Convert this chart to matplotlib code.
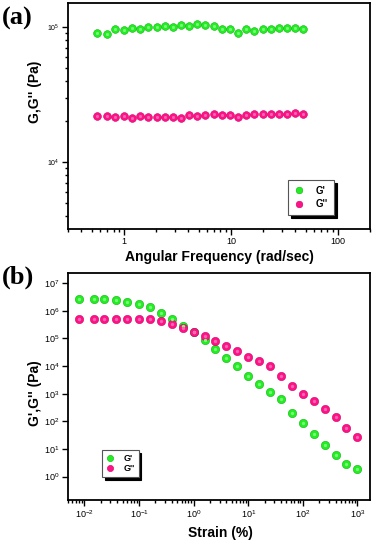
import numpy as np
import matplotlib
matplotlib.use("Agg")
import matplotlib.pyplot as plt
from matplotlib.ticker import LogLocator, NullFormatter, FixedLocator, FixedFormatter

plt.rcParams['font.family'] = ['Liberation Sans', 'DejaVu Sans']

# ---------- Panel (a): frequency sweep ----------
freq_a = [0.56, 0.69, 0.83, 1.0, 1.19, 1.42, 1.69, 2.02, 2.40, 2.86, 3.41, 4.07,
          4.85, 5.79, 6.93, 8.26, 9.84, 11.7, 14.0, 16.6, 19.9, 23.7, 28.1, 33.7, 39.9, 47.0]
Gp_a = [0.90e5, 0.89e5, 0.96e5, 0.95e5, 0.98e5, 0.97e5, 1.00e5, 1.00e5, 1.02e5, 1.00e5,
        1.03e5, 1.02e5, 1.05e5, 1.03e5, 1.02e5, 0.96e5, 0.96e5, 0.90e5, 0.96e5, 0.93e5,
        0.96e5, 0.97e5, 0.98e5, 0.98e5, 0.985e5, 0.965e5]
Gpp_a = [2.18e4, 2.19e4, 2.16e4, 2.18e4, 2.13e4, 2.19e4, 2.17e4, 2.16e4, 2.15e4, 2.17e4,
         2.12e4, 2.21e4, 2.18e4, 2.22e4, 2.28e4, 2.24e4, 2.24e4, 2.16e4, 2.23e4, 2.27e4,
         2.28e4, 2.27e4, 2.28e4, 2.25e4, 2.30e4, 2.28e4]

# ---------- Panel (b): strain sweep ----------
strain_b = [0.008, 0.015, 0.023, 0.038, 0.06, 0.1, 0.16, 0.25, 0.4, 0.63, 1, 1.6, 2.5,
            4, 6.3, 10, 16, 25, 40, 63, 100, 160, 250, 400, 630, 1000]
Gp_b = [2.7e6, 2.7e6, 2.7e6, 2.43e6, 2.1e6, 1.8e6, 1.35e6, 8.5e5, 5.0e5, 2.86e5, 1.69e5,
        8.4e4, 4.1e4, 2.0e4, 9.6e3, 4.4e3, 2.2e3, 1.17e3, 6.4e2, 2.0e2, 84, 35, 14, 6.1,
        2.8, 1.86]
Gpp_b = [5.0e5, 5.1e5, 5.0e5, 5.0e5, 5.1e5, 5.1e5, 5.0e5, 4.3e5, 3.4e5, 2.36e5, 1.69e5,
         1.17e5, 8.2e4, 5.4e4, 3.46e4, 2.2e4, 1.46e4, 9.6e3, 4.4e3, 1.93e3, 990, 524, 290,
         141, 57, 26]

GREEN = '#22ee22'
GREEN_HI = '#77ff77'
GREEN_EDGE = '#11b011'
PINK = '#ff1188'
PINK_HI = '#ff66b0'
PINK_EDGE = '#d00066'

W, H = 374, 542
fig = plt.figure(figsize=(W / 100, H / 100), dpi=100)


def px_axes(left, top, right, bottom):
    return fig.add_axes([left / W, 1 - bottom / H, (right - left) / W, (bottom - top) / H])


def balls(ax, x, y, c, hi, edge, ms, label):
    ax.plot(x, y, ls='none', marker='o', ms=ms, mfc=c, mec=edge, mew=0.4, label=label, zorder=3)
    ax.plot(x, y, ls='none', marker='o', ms=ms * 0.4, mfc=hi, mec='none', zorder=4)


def style(ax):
    for s in ax.spines.values():
        s.set_linewidth(1.3)
    ax.tick_params(which='both', direction='out', top=False, right=False, width=1.0)
    ax.tick_params(which='major', length=4)
    ax.tick_params(which='minor', length=2.5)


# ----- (a) -----
ax1 = px_axes(68, 3, 370, 229)
ax1.set_xscale('log')
ax1.set_yscale('log')
balls(ax1, freq_a, Gp_a, GREEN, GREEN_HI, GREEN_EDGE, 5.6, "G'")
balls(ax1, freq_a, Gpp_a, PINK, PINK_HI, PINK_EDGE, 5.6, "G''")
ax1.set_xlim(0.3, 200)
ax1.set_ylim(3.2e3, 1.5e5)
style(ax1)
ax1.xaxis.set_major_locator(FixedLocator([1, 10, 100]))
ax1.xaxis.set_major_formatter(FixedFormatter(['1', '10', '100']))
ax1.xaxis.set_minor_locator(LogLocator(base=10, subs=np.arange(2, 10), numticks=20))
ax1.xaxis.set_minor_formatter(NullFormatter())
ax1.yaxis.set_major_locator(FixedLocator([1e4, 1e5]))
ax1.yaxis.set_major_formatter(FixedFormatter([r'$\mathregular{10^4}$', r'$\mathregular{10^5}$']))
ax1.yaxis.set_minor_locator(LogLocator(base=10, subs=np.arange(2, 10), numticks=20))
ax1.yaxis.set_minor_formatter(NullFormatter())
ax1.tick_params(axis='x', labelsize=6.5, pad=2)
ax1.tick_params(axis='y', labelsize=5, pad=2)
ax1.set_xlabel('Angular Frequency (rad/sec)', fontsize=10, fontweight='bold', labelpad=3)
ax1.set_ylabel("G,G'' (Pa)", fontsize=10, fontweight='bold')
ax1.yaxis.set_label_coords(-0.086, 0.606)
leg1 = ax1.legend(loc='upper left', bbox_to_anchor=(0.73, 0.217), frameon=True, fancybox=False,
                  shadow={'facecolor': 'black', 'edgecolor': 'black', 'alpha': 1.0},
                  prop={'weight': 'bold', 'size': 7}, handlelength=1.0, handletextpad=1.2,
                  borderpad=0.6, labelspacing=0.35, markerscale=0.85, borderaxespad=0)
leg1.get_frame().set_edgecolor('#555555')
leg1.get_frame().set_linewidth(0.8)

# ----- (b) -----
ax2 = px_axes(68, 273, 370, 500)
ax2.set_xscale('log')
ax2.set_yscale('log')
balls(ax2, strain_b, Gp_b, GREEN, GREEN_HI, GREEN_EDGE, 6.0, "G'")
balls(ax2, strain_b, Gpp_b, PINK, PINK_HI, PINK_EDGE, 6.0, "G''")
ax2.set_xlim(5e-3, 1.7e3)
ax2.set_ylim(0.143, 2.3e7)
style(ax2)
xt = [1e-2, 1e-1, 1, 10, 100, 1000]
ax2.xaxis.set_major_locator(FixedLocator(xt))
ax2.xaxis.set_major_formatter(FixedFormatter([r'$\mathregular{10^{%d}}$' % e for e in range(-2, 4)]))
ax2.xaxis.set_minor_locator(LogLocator(base=10, subs=np.arange(2, 10), numticks=20))
ax2.xaxis.set_minor_formatter(NullFormatter())
yt = [10.0 ** e for e in range(0, 8)]
ax2.yaxis.set_major_locator(FixedLocator(yt))
ax2.yaxis.set_major_formatter(FixedFormatter([r'$\mathregular{10^{%d}}$' % e for e in range(0, 8)]))
ax2.yaxis.set_minor_locator(FixedLocator([]))
ax2.tick_params(axis='both', labelsize=6.5, pad=2)
ax2.set_xlabel('Strain (%)', fontsize=10, fontweight='bold')
ax2.xaxis.set_label_coords((220 - 68) / 302, -(533 - 500) / 227)
ax2.xaxis.label.set_va('center')
ax2.set_ylabel("G',G'' (Pa)", fontsize=10, fontweight='bold')
ax2.yaxis.set_label_coords(-0.086, 0.471)
leg2 = ax2.legend(loc='upper left', bbox_to_anchor=(0.113, 0.22), frameon=True, fancybox=False,
                  shadow={'facecolor': 'black', 'edgecolor': 'black', 'alpha': 1.0},
                  prop={'weight': 'bold', 'size': 6.5}, handlelength=1.0, handletextpad=1.0,
                  borderpad=0.4, labelspacing=0.2, markerscale=0.75, borderaxespad=0)
leg2.get_frame().set_edgecolor('#555555')
leg2.get_frame().set_linewidth(0.8)

# panel labels
fig.text(2 / W, 1 - 25 / H, '(a)', family=['Liberation Serif', 'DejaVu Serif'], fontweight='bold',
         fontsize=19, va='baseline', ha='left')
fig.text(2 / W, 1 - 284 / H, '(b)', family=['Liberation Serif', 'DejaVu Serif'], fontweight='bold',
         fontsize=19, va='baseline', ha='left')

fig.savefig('out.png', dpi=100)
